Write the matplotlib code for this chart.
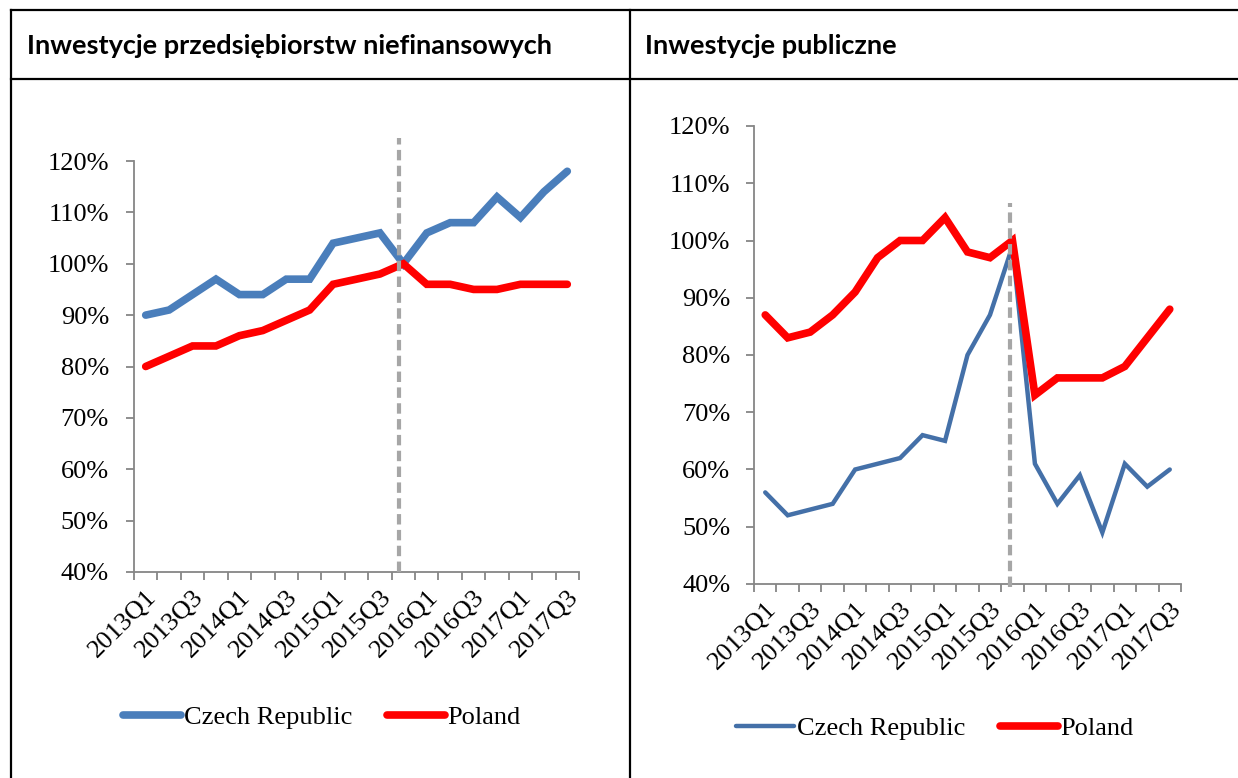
import numpy as np
import matplotlib.pyplot as plt
from matplotlib.lines import Line2D

# data: quarterly index, 2015Q4 = 100%
quarters = ['2013Q1', '2013Q2', '2013Q3', '2013Q4', '2014Q1', '2014Q2', '2014Q3', '2014Q4',
            '2015Q1', '2015Q2', '2015Q3', '2015Q4', '2016Q1', '2016Q2', '2016Q3', '2016Q4',
            '2017Q1', '2017Q2', '2017Q3']

firms_cz = [90, 91, 94, 97, 94, 94, 97, 97, 104, 105, 106, 100, 106, 108, 108, 113, 109, 114, 118]
firms_pl = [80, 82, 84, 84, 86, 87, 89, 91, 96, 97, 98, 100, 96, 96, 95, 95, 96, 96, 96]

public_cz = [56, 52, 53, 54, 60, 61, 62, 66, 65, 80, 87, 99, 61, 54, 59, 49, 61, 57, 60]
public_pl = [87, 83, 84, 87, 91, 97, 100, 100, 104, 98, 97, 100, 73, 76, 76, 76, 78, 83, 88]

titles = ['Inwestycje przedsiębiorstw niefinansowych', 'Inwestycje publiczne']
yticks = [40, 50, 60, 70, 80, 90, 100, 110, 120]
marker_pos = [10.8, 10.9]   # dashed line at 2015Q4

SERIF = 'Liberation Serif'
FS = 19
BLUE_L = '#4a7ebb'
BLUE_R = '#4470a8'
RED = '#ff0000'
GRAY = '#868686'

W, H = 1238, 778
fig = plt.figure(figsize=(W / 100, H / 100), dpi=100)

# table frame
def hline(y, x0, x1):
    fig.add_artist(Line2D([x0 / W, x1 / W], [1 - y / H, 1 - y / H], color='k', lw=1.6))
def vline(x, y0, y1):
    fig.add_artist(Line2D([x / W, x / W], [1 - y0 / H, 1 - y1 / H], color='k', lw=1.6))

hline(10, 11, W)
hline(79, 11, W)
vline(11, 10, H)
vline(630, 10, H)

fig.text(27 / W, 1 - 46 / H, titles[0], family='Lato', weight='bold', fontsize=19.5, va='center')
fig.text(645 / W, 1 - 46 / H, titles[1], family='Lato', weight='bold', fontsize=19.5, va='center')

x = np.arange(len(quarters))

def style_axes(ax, ypad):
    for s in ['top', 'right']:
        ax.spines[s].set_visible(False)
    for s in ['left', 'bottom']:
        ax.spines[s].set_color(GRAY)
        ax.spines[s].set_linewidth(1.3)
    ax.set_xlim(-0.5, len(quarters) - 0.5)
    ax.set_ylim(40, 120)
    ax.set_yticks(yticks)
    ax.set_yticklabels([f'{v}%' for v in yticks], family=SERIF, fontsize=FS)
    ax.tick_params(axis='y', length=6, width=1.3, color=GRAY, pad=ypad)
    ax.set_xticks(np.arange(-0.5, len(quarters)), labels=[])
    ax.tick_params(axis='x', which='major', length=6, width=1.3, color=GRAY)
    ax.set_xticks(x[::2], minor=True)
    ax.set_xticklabels(quarters[::2], minor=True, rotation=45, ha='right',
                       rotation_mode='anchor', family=SERIF, fontsize=FS)
    ax.tick_params(axis='x', which='minor', length=0, pad=10)
    ax.patch.set_alpha(0)

dash = dict(color='#a6a6a6', lw=3, ls=(0, (2.5, 1.3)), clip_on=False, zorder=3)
leg = dict(loc='center', bbox_transform=fig.transFigure, ncol=2, frameon=False,
           prop={'family': SERIF, 'size': FS}, handlelength=2.2, handletextpad=0.1, columnspacing=1.3)

# left panel
ax1 = fig.add_axes([134 / W, 1 - 572 / H, 445 / W, 411 / H])
style_axes(ax1, 12)
ax1.plot(x, firms_cz, color=BLUE_L, lw=5.5, solid_capstyle='round', solid_joinstyle='miter', label='Czech Republic')
ax1.plot(x, firms_pl, color=RED, lw=5.5, solid_capstyle='round', solid_joinstyle='miter', label='Poland')
ax1.plot([marker_pos[0]] * 2, [40, 124.5], **dash)
ax1.legend(bbox_to_anchor=(322 / W, 1 - 717 / H), **leg)

# right panel
ax2 = fig.add_axes([754 / W, 1 - 584 / H, 427 / W, 458 / H])
style_axes(ax2, 11)
ax2.plot(x, public_cz, color=BLUE_R, lw=3.2, solid_capstyle='round', solid_joinstyle='miter', label='Czech Republic')
ax2.plot(x, public_pl, color=RED, lw=5.5, solid_capstyle='round', solid_joinstyle='miter', label='Poland')
ax2.plot([marker_pos[1]] * 2, [39.5, 106.6], **dash)
ax2.legend(bbox_to_anchor=(935 / W, 1 - 728 / H), **leg)

fig.savefig('out.png', dpi=100)
